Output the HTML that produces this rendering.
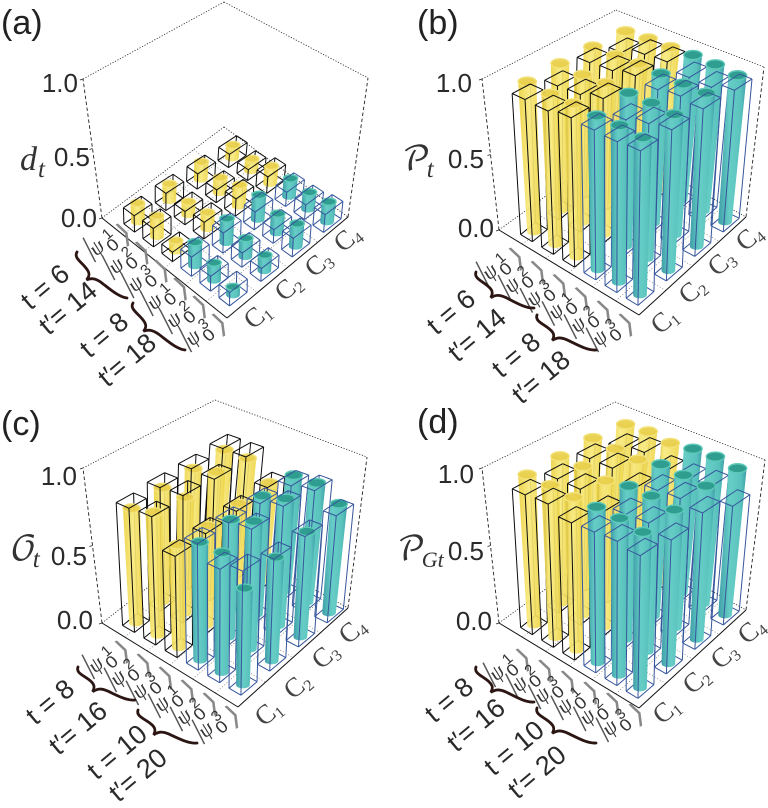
<!DOCTYPE html>
<html lang="en">
<head>
<meta charset="utf-8">
<title>3D bar charts</title>
<style>
html,body{margin:0;padding:0;background:#fff;width:768px;height:808px;overflow:hidden}
svg{display:block}
text{font-family:"Liberation Sans",sans-serif}
</style>
</head>
<body>
<svg id="figure" xmlns="http://www.w3.org/2000/svg" width="768" height="808" viewBox="0 0 768 808">
<defs>
<linearGradient id="tealGrad" x1="0" x2="1" y1="0" y2="0">
<stop offset="0" stop-color="#3f9fa8"/><stop offset=".4" stop-color="#66cdc6"/><stop offset=".8" stop-color="#5ac2bd"/><stop offset="1" stop-color="#3f9fa8"/>
</linearGradient>
<linearGradient id="yellowGrad" x1="0" x2="1" y1="0" y2="0">
<stop offset="0" stop-color="#ecd240"/><stop offset=".5" stop-color="#f8e97c"/><stop offset="1" stop-color="#edd548"/>
</linearGradient>
</defs>
</svg>
<script>
// ---------- Data (rows: |psi1>..|psi3> x 2; columns: C1..C4) ----------
const columnLabels = ['1', '2', '3', '4'];
const kets = ['1', '2', '3', '1', '2', '3'];
const tickLabels = ['0.0', '0.5', '1.0'];
const tickValues = [0, 0.5, 1];

const dtCylinders = [
  [.13,.12,.13,.10],[.14,.09,.11,.09],[.07,.11,.15,.13],
  [.15,.16,.17,.13],[.11,.12,.13,.12],[.05,.10,.15,.14]];
const dtBoxes = [
  [.11,.12,.11,.10],[.12,.09,.09,.08],[.06,.11,.12,.12],
  [.12,.13,.12,.10],[.09,.09,.09,.10],[.08,.08,.12,.12]];
const ptCylinders = [
  [.97,.98,.98,.97],[.96,.97,.985,.98],[.965,.98,.99,.98],
  [.955,.98,.985,.985],[.96,.98,.98,.98],[.95,.97,.98,.965]];
const ptBoxes = [
  [.905,.88,.92,.87],[.90,.89,.93,.92],[.925,.93,.96,.93],
  [.915,.86,.93,.885],[.91,.90,.95,.88],[.92,.925,.93,.92]];
const otCylinders = [
  [.74,.76,.77,.78],[.78,.76,.81,.78],[.64,.64,.66,.67],
  [.72,.74,.77,.78],[.72,.79,.81,.785],[.57,.63,.66,.705]];
const otBoxes = [
  [.79,.81,.82,.84],[.80,.82,.81,.84],[.62,.64,.66,.69],
  [.76,.77,.77,.76],[.67,.79,.81,.785],[.72,.67,.68,.68]];
const pgCylinders = [
  [.97,.98,.99,.97],[.97,.98,.98,.98],[.96,.95,.97,.96],
  [.965,.98,1.0,.98],[.96,.98,.99,.985],[.94,.955,.98,.965]];
const pgBoxes = [
  [.89,.88,.90,.85],[.90,.88,.90,.885],[.85,.80,.83,.82],
  [.86,.85,.88,.825],[.87,.86,.89,.84],[.85,.82,.86,.77]];

// ---------- Panel layout ----------
const panels = [
 {id:'a', title:'(a)', titlePos:[1,34], cyl:dtCylinders, box:dtBoxes,
  ylabel:{main:'d',sub:'t',x:20,y:170,subSize:25,subDx:1},
  floor:{L:[102,218],F:[227,318],R:[348,217],B:[224,127]},
  top:{L:[83,79],B:[224,2],R:[368,78]},
  grid:{r1c1:[138,222],r6c1:[233,295],r1c4:[232,158],r6c4:[327,222]},
  unit:{r1c1:[-3,-146],r6c1:[2,-165],r1c4:[10,-130],r6c4:[14,-145]},
  ticks:[[97,227],[90,166],[78,92]],
  ket:{start:[99,248],end:[195,338]},
  tLabels:[['t = 6',45,287],['t\u2032= 14',68,308],['t = 8',104,335],['t\u2032= 18',127,360]],
  braces:[[[77,252],[127,298]],[[133,303],[185,350]]],
  cLabels:[[257,315],[288,287],[318,263],[347,238]]},
 {id:'b', title:'(b)', titlePos:[417,34], cyl:ptCylinders, box:ptBoxes,
  ylabel:{main:'\uD835\uDCAB',sub:'t',x:402,y:170,subSize:25,subDx:-4},
  floor:{L:[499,230],F:[639,315],R:[746,217],B:[616,145]},
  top:{L:[482,79],B:[616,10],R:[764,67]},
  grid:{r1c1:[534,232],r6c1:[640,295],r1c4:[614,167],r6c4:[725,222]},
  unit:{r1c1:[-7,-155],r6c1:[3,-166],r1c4:[12,-140],r6c4:[13,-152]},
  ticks:[[494,237],[484,168],[472,92]],
  ket:{start:[492,272],end:[602,338]},
  tLabels:[['t = 6',451,312],['t\u2032= 14',477,335],['t = 8',516,355],['t\u2032= 18',541,377]],
  braces:[[[476,272],[534,308]],[[537,315],[596,350]]],
  cLabels:[[664,320],[692,290],[721,262],[749,237]]},
 {id:'c', title:'(c)', titlePos:[1,435], cyl:otCylinders, box:otBoxes,
  ylabel:{main:'\uD835\uDCAA',sub:'t',x:10,y:560,subSize:25,subDx:-4},
  floor:{L:[102,623],F:[238,707],R:[348,608],B:[215,535]},
  top:{L:[83,468],B:[215,400],R:[367,457]},
  grid:{r1c1:[136,623],r6c1:[243,685],r1c4:[216,559],r6c4:[329,613]},
  unit:{r1c1:[-6,-155],r6c1:[3,-170],r1c4:[11,-140],r6c4:[14,-155]},
  ticks:[[93,629],[87,565],[77,485]],
  ket:{start:[98,665],end:[208,730]},
  tLabels:[['t = 8',50,702],['t\u2032= 16',78,728],['t = 10',117,752],['t\u2032= 20',138,775]],
  braces:[[[78,667],[135,700]],[[138,710],[197,743]]],
  cLabels:[[268,712],[297,685],[325,655],[352,630]]},
 {id:'d', title:'(d)', titlePos:[417,433], cyl:pgCylinders, box:pgBoxes,
  ylabel:{main:'\uD835\uDCAB',sub:'Gt',x:397,y:560,subSize:22,subDx:-4},
  floor:{L:[499,623],F:[639,708],R:[746,610],B:[616,538]},
  top:{L:[482,468],B:[615,402],R:[765,460]},
  grid:{r1c1:[534,625],r6c1:[640,688],r1c4:[614,560],r6c4:[725,615]},
  unit:{r1c1:[-7,-155],r6c1:[3,-166],r1c4:[12,-140],r6c4:[13,-152]},
  ticks:[[492,630],[484,560],[474,483]],
  ket:{start:[499,673],end:[612,728]},
  tLabels:[['t = 8',449,700],['t\u2032= 16',476,725],['t = 10',514,748],['t\u2032= 20',537,772]],
  braces:[[[476,667],[534,702]],[[537,708],[596,743]]],
  cLabels:[[666,710],[696,680],[724,655],[751,630]]}
];

// ---------- Drawing ----------
const NS = 'http://www.w3.org/2000/svg';
const root = document.getElementById('figure');
const HALF = 0.28;

function mk(tag, parent, props) {
  const n = document.createElementNS(NS, tag);
  for (const k in props) n.setAttribute(k, props[k]);
  parent.appendChild(n);
  return n;
}
function lerp(a, b, t) { return a + (b - a) * t; }
function bilinear(q, a, b) {
  return [0, 1].map(i =>
    (1 - a) * (1 - b) * q.r1c1[i] + a * (1 - b) * q.r6c1[i] +
    (1 - a) * b * q.r1c4[i] + a * b * q.r6c4[i]);
}
// Axis function: row index, column index and value -> pixel position
function project(p, row, col, z) {
  const a = row / 5, b = col / 3;
  const base = bilinear(p.grid, a, b);
  const u = bilinear(p.unit, a, b);
  return [base[0] + u[0] * z, base[1] + u[1] * z];
}
function floorPoint(f, s, t) { // s along L->F, t along L->B
  const x = (1 - s) * (1 - t) * f.L[0] + s * (1 - t) * f.F[0] + (1 - s) * t * f.B[0] + s * t * f.R[0];
  const y = (1 - s) * (1 - t) * f.L[1] + s * (1 - t) * f.F[1] + (1 - s) * t * f.B[1] + s * t * f.R[1];
  return [x, y];
}
function seg(parent, a, b, style) {
  return mk('line', parent, Object.assign({x1:a[0].toFixed(2), y1:a[1].toFixed(2), x2:b[0].toFixed(2), y2:b[1].toFixed(2)}, style));
}

function drawFrame(p, g) {
  const f = p.floor, t = p.top;
  const grid = {stroke:'#777', 'stroke-width':.7, 'stroke-dasharray':'1 2'};
  for (let i = 1; i < 6; i++) {
    const line = seg(g, floorPoint(f, i / 6, 0), floorPoint(f, i / 6, 1), grid);
    
    
  }
  for (let j = 1; j < 4; j++) {
    const line = seg(g, floorPoint(f, 0, j / 4), floorPoint(f, 1, j / 4), grid);
    
    
  }
  const dot = {stroke:'#222', 'stroke-width':.8, 'stroke-dasharray':'1.2 1.6'};
  const dash = {stroke:'#222', 'stroke-width':.9, 'stroke-dasharray':'3.5 2.5'};
  const solid = {stroke:'#111', 'stroke-width':1};
  const edges = [
    [f.L, f.B, dot, 'floor-back-left-edge'],
    [f.B, f.R, dot, 'floor-back-right-edge'],
    [t.L, t.B, dot, 'top-left-edge'],
    [t.B, t.R, dot, 'top-right-edge'],
    [f.L, t.L, dash, 'z-axis-left'],
    [f.R, t.R, dash, 'z-axis-right'],
    [f.L, f.F, solid, 'row-axis'],
    [f.F, f.R, solid, 'column-axis']
  ];
  edges.forEach(e => {
    const line = seg(g, e[0], e[1], e[2]);
    
    
  });
}

function drawBar(p, g, row, col) {
  const teal = row >= 3;
  const zc = p.cyl[row][col], zb = p.box[row][col];
  const bar = mk('g', g, {});
  
  
  const edge = {stroke: teal ? '#36569c' : '#0c0c0c', 'stroke-width':1, fill:'none'};
  const corner = (dr, dc, z) => project(p, row + dr * HALF * 2, col + dc * HALF * 2, z);
  // dr=+1 toward the front edge, dc=-1 toward the front edge
  const b = {
    back:corner(-.5, .5, 0), left:corner(-.5, -.5, 0), right:corner(.5, .5, 0), front:corner(.5, -.5, 0),
    tback:corner(-.5, .5, zb), tleft:corner(-.5, -.5, zb), tright:corner(.5, .5, zb), tfront:corner(.5, -.5, zb)
  };
  const boxBack = mk('g', bar, {});
  
  
  [[b.back,b.left],[b.back,b.right],[b.back,b.tback],[b.left,b.front],[b.right,b.front]].forEach(s => seg(boxBack, s[0], s[1], edge));

  const c0 = project(p, row, col, 0), c1 = project(p, row, col, zc);
  const rx0 = 6.8, rx1 = 6.8 + 2.4 * zc, ry0 = rx0 * .5, ry1 = rx1 * .5;
  const body = mk('path', bar, {
    d:`M${(c0[0]-rx0).toFixed(2)} ${c0[1].toFixed(2)} L${(c1[0]-rx1).toFixed(2)} ${c1[1].toFixed(2)} L${(c1[0]+rx1).toFixed(2)} ${c1[1].toFixed(2)} L${(c0[0]+rx0).toFixed(2)} ${c0[1].toFixed(2)} A${rx0} ${ry0} 0 0 1 ${(c0[0]-rx0).toFixed(2)} ${c0[1].toFixed(2)}Z`,
    fill: teal ? 'url(#tealGrad)' : 'url(#yellowGrad)',
    'fill-opacity': teal ? 1 : .92
  });
  
  
  const cap = mk('ellipse', bar, {
    cx:c1[0].toFixed(2), cy:c1[1].toFixed(2), rx:rx1.toFixed(2), ry:ry1.toFixed(2),
    fill: teal ? '#2f9e90' : '#e9d04c',
    stroke: teal ? '#5dc9b8' : '#f3e27a', 'stroke-width':1.4, 'fill-opacity': teal ? 1 : .95
  });
  
  

  const boxFront = mk('g', bar, {});
  
  
  [[b.left,b.tleft],[b.right,b.tright],[b.front,b.tfront],
   [b.tback,b.tleft],[b.tback,b.tright],[b.tleft,b.tfront],[b.tright,b.tfront]].forEach(s => seg(boxFront, s[0], s[1], edge));
}

function drawLabels(p, g) {
  const title = mk('text', g, {x:p.titlePos[0], y:p.titlePos[1], 'font-size':34, fill:'#222'});
  title.textContent = p.title;
  
  

  tickLabels.forEach((lab, i) => {
    const t = mk('text', g, {x:p.ticks[i][0], y:p.ticks[i][1], 'font-size':26, 'text-anchor':'end', fill:'#2a2a2a'});
    t.textContent = lab;
    
    
    const a = [lerp(p.floor.L[0], p.top.L[0], tickValues[i]), lerp(p.floor.L[1], p.top.L[1], tickValues[i])];
    const mark = seg(g, a, [a[0] - 3, a[1] + 1], {stroke:'#222', 'stroke-width':.8});
    
    
  });

  const yl = mk('text', g, {x:p.ylabel.x, y:p.ylabel.y, fill:'#333', 'font-size':34, 'font-style':p.id === 'a' ? 'italic' : 'normal', style:'font-family:"Liberation Serif","DejaVu Math TeX Gyre","DejaVu Sans",serif'});
  yl.textContent = p.ylabel.main;
  const ys = mk('tspan', yl, {dy:7, dx:p.ylabel.subDx, 'font-size':p.ylabel.subSize, 'font-style':'italic'});
  ys.textContent = p.ylabel.sub;
  
  

  kets.forEach((k, i) => {
    const x = lerp(p.ket.start[0], p.ket.end[0], i / 5), y = lerp(p.ket.start[1], p.ket.end[1], i / 5);
    const gk = mk('g', g, {transform:`translate(${x.toFixed(1)} ${y.toFixed(1)}) rotate(-27)`, fill:'#3a3a3a'});
    
    
    const parts = [
      ['|', -9.5, 4.5, 30, '#555', '"Liberation Serif",serif', 'normal', 'rotate(0)'],
      ['\u03C8', 0, 5, 21, '#333', '"Liberation Serif",serif', 'italic', 'rotate(-15)'],
      [k, 15, -4, 15, '#333', '"Liberation Sans",sans-serif', 'normal', 'rotate(-15)'],
      ['0', 15, 9, 17, '#333', '"Liberation Sans",sans-serif', 'normal', 'rotate(-15) scale(1.1 1)'],
      ['\u27E9', 29, 8, 28, '#888', '"DejaVu Sans",sans-serif', 'normal', 'scale(1.15 1)']
    ];
    parts.forEach(q => {
      const t = mk('text', gk, {transform:`translate(${q[1]} ${q[2]}) ${q[7]}`, 'font-size':q[3], fill:q[4], 'text-anchor':'middle', 'font-style':q[6], style:`font-family:${q[5]}`});
      t.textContent = q[0];
    });
  });

  p.tLabels.forEach(l => {
    const t = mk('text', g, {transform:`translate(${l[1]} ${l[2]}) rotate(-40)`, y:9, 'font-size':27, 'text-anchor':'middle', fill:'#2a2a2a'});
    t.textContent = l[0];
    
    
  });

  p.braces.forEach(br => {
    const A = br[0], B = br[1];
    const dx = B[0] - A[0], dy = B[1] - A[1], len = Math.hypot(dx, dy);
    const nx = -dy / len, ny = dx / len; // points toward the lower-left
    const pt = (t, n) => `${(A[0] + dx * t + nx * n).toFixed(1)} ${(A[1] + dy * t + ny * n).toFixed(1)}`;
    const path = mk('path', g, {
      d:`M${pt(0,0)} C${pt(.02,7)} ${pt(.16,4)} ${pt(.28,6)} C${pt(.36,7)} ${pt(.38,10)} ${pt(.38,14)} C${pt(.42,9)} ${pt(.46,7)} ${pt(.56,6)} C${pt(.72,5)} ${pt(.9,5)} ${pt(1,0)}`,
      fill:'none', stroke:'#2b1613', 'stroke-width':2.8, 'stroke-linecap':'round'
    });
    
    
  });

  columnLabels.forEach((c, i) => {
    const pos = p.cLabels[i];
    const t = mk('text', g, {transform:`translate(${pos[0]} ${pos[1]}) rotate(-40)`, y:9, 'font-size':27, 'text-anchor':'middle', fill:'#444', style:'font-family:"Liberation Serif",serif'});
    t.textContent = 'C';
    const s = mk('tspan', t, {dy:4, 'font-size':16});
    s.textContent = c;
    
    
  });
}

panels.forEach(p => {
  const g = mk('g', root, {});
  
  
  drawFrame(p, g);
  for (let col = 3; col >= 0; col--) {
    for (let row = 0; row < 6; row++) {
      drawBar(p, g, row, col);
    }
  }
  drawLabels(p, g);
});
</script>
</body>
</html>
